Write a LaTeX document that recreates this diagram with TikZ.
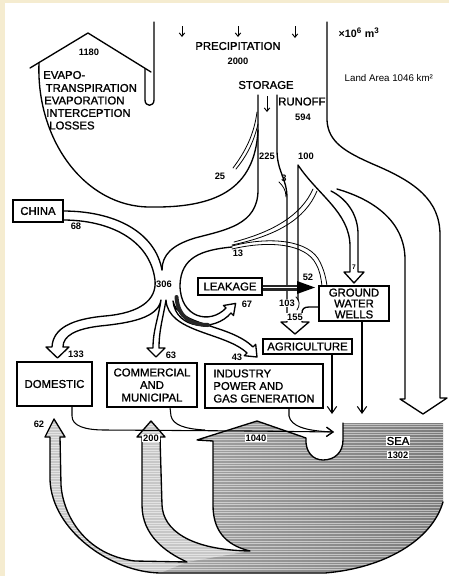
\documentclass[tikz,border=0pt]{standalone}
\usepackage{fontspec}
\setmainfont{Liberation Sans}
\newfontfamily\heavy{Liberation Sans}[FakeBold=1.2]
\usetikzlibrary{arrows.meta}
\definecolor{bg}{RGB}{245,236,208}
\begin{document}
\begin{tikzpicture}[x=0.75pt,y=-0.75pt,
  ln/.style={line width=1pt, line join=round, line cap=round},
  thinln/.style={line width=0.6pt, line cap=round},
  lbl/.style={font=\heavy\fontsize{8.5}{9.4}\selectfont, inner sep=0pt},
  num/.style={font=\fontsize{7}{8}\selectfont\bfseries, inner sep=0.6pt},
  wnum/.style={num, fill=white},
  box/.style={draw, fill=white, line width=0.9pt, font=\heavy\fontsize{8.5}{9.4}\selectfont, inner sep=0pt, align=center},
  ret/.style={line width=0.8pt, -{Straight Barb[length=5pt,width=7pt]}},
  pre/.style={line width=0.7pt, -{Straight Barb[length=2.5pt,width=4pt]}},
]
\useasboundingbox (0,0) rectangle (449,576);
\fill[bg] (0,0) rectangle (449,576);
\fill[white] (5,3) rectangle (449,576);

% ---------- sea and returns from the sea ----------
\def\seapath{(343,423) -- (443,423) -- (443,502) .. controls (432,540) and (385,568) .. (325,573) -- (160,573) .. controls (110,572) and (52,530) .. (50,480) -- (50,437) -- (45,437) -- (54,419) -- (65,437) -- (60,437) -- (61,485) .. controls (63,515) and (85,555) .. (135,561) -- (187,562) .. controls (165,552) and (142,535) .. (142,505) -- (142,437) -- (137,437) -- (151,421) -- (165,437) -- (160,437) -- (162,505) .. controls (163,530) and (190,550) .. (250,551) .. controls (225,545) and (213,530) .. (213,505) -- (213,441) -- (197,440) -- (257,421) -- (306,438) .. controls (305,452) and (313,460) .. (323,460) .. controls (335,460) and (343,452) .. (343,440) -- cycle}
\begin{scope}
  \clip \seapath;
  \shade[left color=black!28, right color=black!52] (40,415) rectangle (449,576);
  \fill[black!22] (50,437) -- (45,437) -- (54,419) -- (65,437) -- (60,437) -- (61,485) .. controls (63,515) and (85,555) .. (135,561) -- (187,562) -- (160,573) .. controls (110,572) and (52,530) .. (50,480) -- cycle;
  \fill[black!22] (142,437) -- (137,437) -- (151,421) -- (165,437) -- (160,437) -- (162,505) .. controls (163,530) and (190,550) .. (250,551) -- (187,562) .. controls (165,552) and (142,535) .. (142,505) -- cycle;
  \foreach \yy in {424,426.6,...,576} \draw[white, line width=0.35pt, opacity=0.5] (40,\yy) -- (449,\yy);
\end{scope}
\draw[ln] (443,502) .. controls (432,540) and (385,568) .. (325,573) -- (160,573) .. controls (110,572) and (52,530) .. (50,480) -- (50,437) -- (45,437) -- (54,419) -- (65,437) -- (60,437) -- (61,485) .. controls (63,515) and (85,555) .. (135,561) -- (187,562) .. controls (165,552) and (142,535) .. (142,505) -- (142,437) -- (137,437) -- (151,421) -- (165,437) -- (160,437) -- (162,505) .. controls (163,530) and (190,550) .. (250,551) .. controls (225,545) and (213,530) .. (213,505) -- (213,441) -- (197,440) -- (257,421) -- (306,438) .. controls (305,452) and (313,460) .. (323,460) .. controls (335,460) and (343,452) .. (343,440) -- (343,423);

% ---------- top: precipitation ----------
\draw[pre] (182,26) -- (182,37);
\draw[pre] (238,26) -- (238,37);
\draw[pre] (295,26) -- (295,38);
\draw[pre] (267,96) -- (267,112);

% evapotranspiration arrow
\draw[ln] (30,68) -- (88,33) -- (151,72);
\draw[ln] (145,69) -- (145,100) .. controls (145,107) and (154,107) .. (154,100) -- (154,22);
\draw[ln] (39,63) .. controls (36,140) and (85,207) .. (150,207) .. controls (215,208) and (255,190) .. (258,130);
% 25
\draw[thinln] (257,112) .. controls (254,135) and (245,152) .. (233,168);
\draw[thinln] (258,124) .. controls (253,145) and (245,158) .. (236,169);

% storage left edge into the junction
\draw[ln] (258,95) -- (258,190) .. controls (258,225) and (225,230) .. (195,238) .. controls (172,245) and (162,255) .. (162,270);
% China band upper edge
\draw[ln] (63,211) .. controls (115,211) and (155,232) .. (162,270);
% China lower edge, outputs, leakage, input lower edge
\draw[ln] (63,220) .. controls (110,220) and (150,240) .. (155,280) .. controls (157,300) and (140,313) .. (105,316) .. controls (72,319) and (53,328) .. (52,347) -- (46,347) -- (57.5,358) -- (69,347) -- (63,347) .. controls (63,336) and (75,329) .. (100,326) .. controls (130,323) and (158,318) .. (161,300)
  .. controls (158,320) and (153,330) .. (153,348) -- (147,348) -- (156,357) -- (165,348) -- (159,348) .. controls (159,330) and (163,318) .. (166,300)
  .. controls (168,333) and (225,332) .. (247,353) -- (244.3,355.7) -- (257,357) -- (255.7,344.3) -- (253,347) .. controls (230,324) and (178,326) .. (173,301)
  .. controls (176,330) and (215,332) .. (231,313) -- (233.5,315.5) -- (235.6,303.4) -- (223.5,305.5) -- (226,308) .. controls (210,325) and (180,318) .. (180,285) .. controls (181,258) and (200,250) .. (232,247);
% dark part of leakage
\draw[black!85, line width=3pt, line cap=round] (176.5,297) .. controls (178,318) and (192,325) .. (208,325);

% runoff column (storage right edge -> agriculture)
\draw[ln] (277,95) -- (277,150) .. controls (277,172) and (287,178) .. (287,198) -- (287,322) -- (281,322) -- (295,334) -- (309,322) -- (302,322) -- (302,313) .. controls (302,309) and (304,307) .. (309,307) -- (319,307);
\draw[thinln] (279,182) .. controls (283,186) and (286,190) .. (286,197);
% 100 band and arrow 7
\draw[ln] (298,300) -- (298,165) .. controls (318,195) and (349,212) .. (350,245) -- (350,272) -- (344,272) -- (354,283) -- (364,272) -- (358,272) -- (358,232) .. controls (357,212) and (345,198) .. (331,191);
\draw[thinln] (296,297) .. controls (300,300) and (300,306) .. (297,310);
% big runoff arrow to the sea
\draw[ln] (327,22) -- (327,120) .. controls (328,142) and (345,152) .. (375,165) .. controls (415,182) and (440,200) .. (440,235) -- (440,398) -- (447,398) -- (423,414) -- (400,399) -- (405,399) -- (405,258) .. controls (404,222) and (375,200) .. (337,189);
% thin double lines
\draw[thinln] (317,191) .. controls (305,220) and (275,236) .. (232,245);
\draw[thinln] (313,189) .. controls (301,216) and (272,232) .. (234,242);
\draw[thinln] (232,246) .. controls (270,236) and (310,240) .. (320,262) .. controls (324,270) and (326,278) .. (327,286);
\draw[thinln] (232,249) .. controls (270,240) and (306,244) .. (316,264) .. controls (320,271) and (321,278) .. (322,286);

% leakage -> ground water (52)
\fill[black!85] (262,284.5) rectangle (298,290.5);
\draw[white, line width=0.5pt] (262,287.5) -- (298,287.5);
\fill[black] (297,281) -- (315,287.5) -- (297,294) -- cycle;

% ---------- boxes ----------
\node[box, minimum width=37.5pt, minimum height=16.5pt] (china) at (38,211) {CHINA};
\node[box, minimum width=48pt, minimum height=12.75pt] (leak) at (230,286.5) {LEAKAGE};
\node[box, minimum width=52.5pt, minimum height=26.25pt, font=\heavy\fontsize{8.5}{8.2}\selectfont] (gw) at (354,303.5) {GROUND\\WATER\\WELLS};
\node[box, minimum width=66.75pt, minimum height=11.25pt] (agri) at (307.5,346.5) {AGRICULTURE};
\node[box, minimum width=56.25pt, minimum height=33pt] (dom) at (54.5,384) {DOMESTIC};
\node[box, minimum width=67.5pt, minimum height=33pt] (com) at (152,385) {COMMERCIAL\\AND\\MUNICIPAL};
\node[box, minimum width=88.5pt, minimum height=33pt, align=left] (ind) at (264,386) {INDUSTRY\\POWER AND\\GAS GENERATION};

% ---------- returns to the sea ----------
\coordinate (seain) at (334,432);
\draw[line width=0.8pt] (72,406.5) -- (72,416) .. controls (72,426) and (85,430) .. (105,430) -- (250,431);
\draw[line width=0.8pt] (170,407.5) -- (171,416) .. controls (173,425) and (185,429) .. (205,430);
\draw[ret] (289,408.5) -- (289,416) .. controls (291,426) and (305,431) .. (seain);
\draw[ret] (250,431) -- (seain);
\draw[ret] (332,354.5) -- (332,414);
\draw[ret] (362,321.5) -- (362,414);

% ---------- texts ----------
\node[anchor=west, font=\fontsize{8}{9}\selectfont\bfseries] at (334,33) {×10\textsuperscript{6} m\textsuperscript{3}};
\node[lbl] at (238,46) {PRECIPITATION};
\node[num] at (238,61) {2000};
\node[lbl] at (266,85) {STORAGE};
\node[lbl, anchor=west] at (278,101.5) {RUNOFF};
\node[num] at (303,117) {594};
\node[anchor=west, font=\fontsize{7.3}{8}\selectfont] at (340,78) {Land Area 1046 km²};
\node[num] at (89,52) {1180};
\node[lbl, anchor=west] at (43,75) {EVAPO-};
\node[lbl, anchor=west] at (45.5,88) {TRANSPIRATION};
\node[lbl, anchor=west] at (44,100.5) {EVAPORATION};
\node[lbl, anchor=west] at (46,113) {INTERCEPTION};
\node[lbl, anchor=west] at (49,125.5) {LOSSES};
\node[num] at (267,156) {225};
\node[num] at (306,156) {100};
\node[num] at (220,176) {25};
\node[num] at (284,178) {3};
\node[num] at (76,226) {68};
\node[num] at (164,284) {306};
\node[num] at (238,253) {13};
\node[num] at (308,277) {52};
\node[num] at (247,304) {67};
\node[wnum] at (287,303) {103};
\node[wnum] at (295,317) {155};
\node[num, font=\fontsize{5}{6}\selectfont\bfseries] at (354,267) {7};
\node[num] at (76,354) {133};
\node[num] at (171,355) {63};
\node[num] at (237,357) {43};
\node[num] at (39,424) {62};
\node[wnum] at (151,438) {200};
\node[wnum] at (256,438) {1040};
\node[lbl, fill=white, inner sep=0.8pt] at (398,441) {SEA};
\node[wnum] at (398,455) {1302};
\end{tikzpicture}
\end{document}
